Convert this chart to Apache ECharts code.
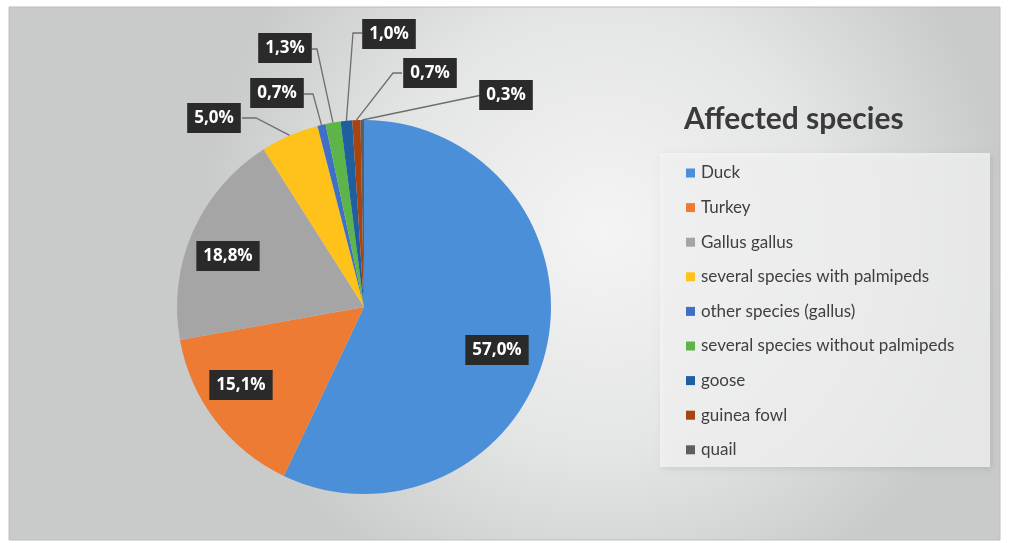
<!DOCTYPE html>
<html>
<head>
<meta charset="utf-8">
<script src="https://cdn.jsdelivr.net/npm/echarts@6/dist/echarts.min.js"></script>
<style>
html,body{margin:0;padding:0;background:#fff;}
#chart{width:1013px;height:543px;}
</style>
</head>
<body>
<div id="chart"></div>
<script>
const categories = ['Duck','Turkey','Gallus gallus','several species with palmipeds','other species (gallus)','several species without palmipeds','goose','guinea fowl','quail'];
const values = [57.0, 15.1, 18.8, 5.0, 0.7, 1.3, 1.0, 0.7, 0.3];
const colors = ['#4a8fd8','#ee7b33','#a5a5a5','#ffc21a','#3f6fc6','#5db54a','#1f5fa0','#a8440f','#5e5e5e'];
const chartTitle = 'Affected species';

// label layout (centres of label boxes and leader kinks), pixels
const labelPos = [[497,350],[241,385],[228,256],[214,118],[277,93],[285,48],[389,34],[430,73],[506,95]];
const lineKink = [null,null,null,[256,118],[313,94],[317,49],[353,33],[393,73],[482,95]];
const lineEnd  = [null,null,null,[242,118],[304,94],[312,49],[362,33],[402,73],[482,95]];

const chart = echarts.init(document.getElementById('chart'));
const fmt = v => v.toFixed(1).replace('.', ',') + '%';

chart.setOption({
  animation: false,
  graphic: [
    { type: 'rect', shape: { x: 9, y: 7, width: 991, height: 533 }, z: -10,
      style: { fill: new echarts.graphic.RadialGradient(0.6, 0.42, 0.75, [
        { offset: 0, color: '#f4f4f4' }, { offset: 0.55, color: '#e4e5e5' }, { offset: 1, color: '#c9cbcb' }]),
        stroke: '#bdbdbd', lineWidth: 1 } },
    { type: 'rect', shape: { x: 660, y: 153, width: 330, height: 314 }, z: -5,
      style: { fill: 'rgba(246,246,246,0.75)', shadowBlur: 6, shadowColor: 'rgba(0,0,0,0.12)', shadowOffsetX: 2, shadowOffsetY: 2 } }
  ],
  title: {
    text: chartTitle, left: 679, top: 99,
    textStyle: { fontFamily: 'Lato', fontWeight: 'bold', fontSize: 30, color: '#3a3a3a' }
  },
  legend: {
    orient: 'vertical', left: 681, top: 158,
    data: categories,
    icon: 'rect', itemWidth: 9, itemHeight: 9, itemGap: 14.6,
    textStyle: { fontFamily: 'Lato', fontSize: 17, color: '#404040', lineHeight: 20, padding: [0,0,0,1] }
  },
  series: [{
    type: 'pie',
    center: [364, 307],
    radius: 187,
    startAngle: 90,
    clockwise: true,
    avoidLabelOverlap: false,
    itemStyle: { borderWidth: 0 },
    label: {
      show: true, position: 'outside',
      formatter: p => fmt(p.value),
      fontFamily: 'Open Sans', fontWeight: 'bold', fontSize: 17, color: '#ffffff',
      backgroundColor: '#2a2a2a', padding: [7, 7, 6, 7]
    },
    labelLine: { show: true, lineStyle: { color: '#6e6e6e', width: 1.3 } },
    labelLayout: function (p) {
      const i = p.dataIndex;
      const pos = labelPos[i];
      const res = { x: pos[0], y: pos[1], align: 'center', verticalAlign: 'middle' };
      if (lineKink[i] && p.labelLinePoints) {
        const s = p.labelLinePoints[0];
        res.labelLinePoints = [[s[0], s[1]], lineKink[i], lineEnd[i]];
      }
      return res;
    },
    data: categories.map((c, i) => ({
      name: c, value: values[i], itemStyle: { color: colors[i] },
      labelLine: { show: i > 2 }
    }))
  }]
});
</script>
</body>
</html>
